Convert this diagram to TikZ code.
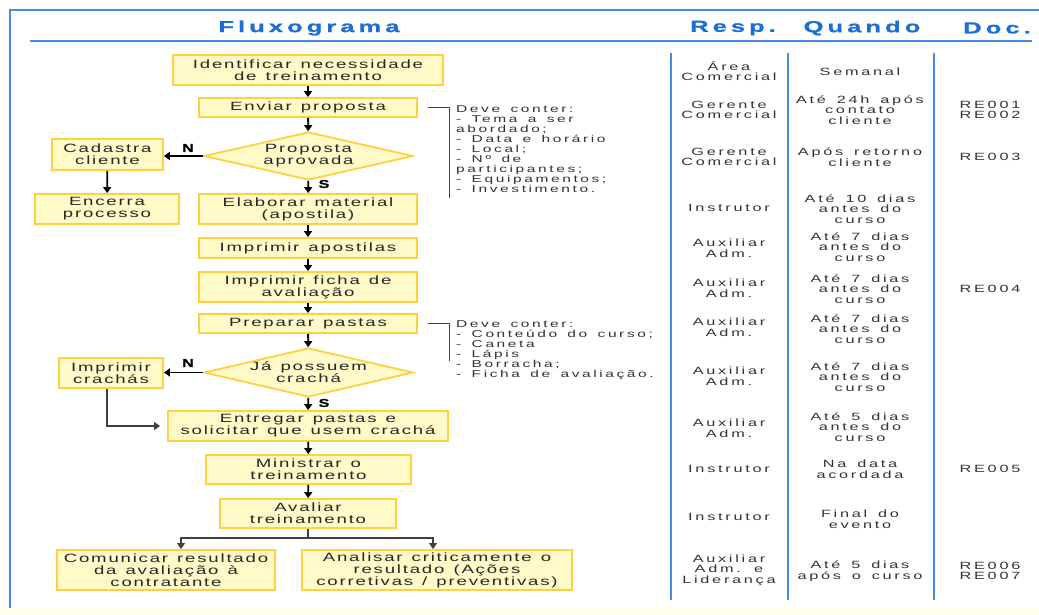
\documentclass[tikz,border=0pt]{standalone}
\usepackage{fontspec}
\setmainfont{Liberation Sans}
\newfontfamily\caixafont{Liberation Sans}[FakeStretch=1.55, LetterSpace=15, WordSpace=1.3]
\newfontfamily\colunafont{Liberation Sans}[FakeStretch=1.55, LetterSpace=26, WordSpace=1.5]
\newfontfamily\titulofont{Liberation Sans Bold}[FakeStretch=1.6, LetterSpace=25, FakeBold=1]
\newfontfamily\rotulofont{Liberation Sans Bold}[FakeStretch=1.4, FakeBold=1]
\usetikzlibrary{shapes.geometric, arrows.meta}
\definecolor{ouro}{RGB}{255,208,64}
\definecolor{creme}{RGB}{255,250,200}
\definecolor{azul}{RGB}{28,110,214}
\definecolor{linha}{RGB}{70,140,230}
\definecolor{fundo}{RGB}{255,255,236}

\begin{document}
\begin{tikzpicture}[x=1pt, y=-1pt,
  caixa/.style={draw=ouro, fill=creme, line width=1.8pt, inner sep=0pt, align=center,
    font=\fontsize{12}{12}\selectfont\caixafont, text=black!85},
  decisao/.style={draw=ouro, fill=creme, line width=1.8pt, inner sep=0pt, diamond},
  texto/.style={inner sep=0pt, align=center, font=\fontsize{12}{12}\selectfont\caixafont, text=black!85},
  seta/.style={-{Triangle[width=8pt,length=6pt]}, line width=1.8pt},
  liga/.style={draw=black!75, line width=1.1pt},
  coluna/.style={inner sep=0pt, align=center, text=black!80,
    font=\fontsize{10.5}{10.5}\selectfont\colunafont},
  nota/.style={inner sep=0pt, align=left, anchor=north west, text=black!80,
    font=\fontsize{10}{10}\selectfont\colunafont},
  cabec/.style={inner sep=0pt, text=azul, font=\fontsize{16}{16}\selectfont\titulofont},
  rotulo/.style={inner sep=0pt, font=\fontsize{11.5}{11.5}\selectfont\rotulofont}]
\useasboundingbox (0,0) rectangle (1039,615);
\fill[fundo] (0,608) rectangle (1039,615);
\draw[linha, line width=1.5pt] (10,608) -- (10,10) -- (1039,10);

% cabecalho
\node[cabec] (titulo) at (309,28) {Fluxograma};
\node[cabec] (hresp) at (733,28) {Resp.};
\node[cabec] (hquando) at (862,28) {Quando};
\node[cabec] (hdoc) at (997,28) {Doc.};
\draw[linha, line width=1.3pt] (30,41) -- (1032,41);
\draw[linha, line width=1.8pt] (671,53) -- (671,600);
\draw[linha, line width=1.8pt] (788,53) -- (788,600);
\draw[linha, line width=1.8pt] (934,53) -- (934,600);

% fluxo
\node[caixa, minimum width=270pt, minimum height=30pt] (ident) at (308,70) {Identificar necessidade\\de treinamento};
\node[caixa, minimum width=218pt, minimum height=19pt] (envia) at (308,107.5) {Enviar proposta};
\node[decisao, minimum width=209pt, minimum height=48pt] (aprov) at (308.5,156) {};
\node[texto] (aprovtxt) at (aprov) {Proposta\\aprovada};
\node[caixa, minimum width=111pt, minimum height=31pt] (cadastra) at (107.5,154.5) {Cadastra\\cliente};
\node[caixa, minimum width=144pt, minimum height=30pt] (encerra) at (107,209) {Encerra\\processo};
\node[caixa, minimum width=218pt, minimum height=30pt] (elabora) at (308,209) {Elaborar material\\(apostila)};
\node[caixa, minimum width=218pt, minimum height=20pt] (impapost) at (308,248) {Imprimir apostilas};
\node[caixa, minimum width=218pt, minimum height=30pt] (impficha) at (308,287) {Imprimir ficha de\\avaliação};
\node[caixa, minimum width=218pt, minimum height=19pt] (prepara) at (308,323.5) {Preparar pastas};
\node[decisao, minimum width=209pt, minimum height=49pt] (possuem) at (308.5,372.5) {};
\node[texto] (possuemtxt) at (possuem) {Já possuem\\crachá};
\node[caixa, minimum width=104pt, minimum height=30pt] (impcracha) at (111,373) {Imprimir\\crachás};
\node[caixa, minimum width=280pt, minimum height=30pt] (entrega) at (308,426) {Entregar pastas e\\solicitar que usem crachá};
\node[caixa, minimum width=205pt, minimum height=29pt] (ministra) at (308.5,469.5) {Ministrar o\\treinamento};
\node[caixa, minimum width=176pt, minimum height=29pt] (avalia) at (308,513.5) {Avaliar\\treinamento};
\node[caixa, minimum width=218pt, minimum height=40pt] (comunica) at (166,570) {Comunicar resultado\\da avaliação à\\contratante};
\node[caixa, minimum width=270pt, minimum height=40pt] (analisa) at (437,570) {Analisar criticamente o\\resultado (Ações\\corretivas / preventivas)};

\draw[seta] (ident) -- (envia);
\draw[seta] (envia) -- (aprov);
\draw[seta] (aprov.west) -- (aprov.west -| cadastra.east);
\draw[seta] (aprov) -- (elabora);
\draw[seta] (cadastra) -- (encerra);
\draw[seta] (elabora) -- (impapost);
\draw[seta] (impapost) -- (impficha);
\draw[seta] (impficha) -- (prepara);
\draw[seta] (prepara) -- (possuem);
\draw[seta] (possuem.west) -- (possuem.west -| impcracha.east);
\draw[seta] (possuem) -- (entrega);
\draw[seta] (entrega) -- (ministra);
\draw[seta] (ministra) -- (avalia);
\node[rotulo] (n1) at (188,148) {N};
\node[rotulo] (s1) at (324,184) {S};
\node[rotulo] (n2) at (188,363) {N};
\node[rotulo] (s2) at (324,403) {S};

\draw[liga, -{Triangle[width=8pt,length=6pt]}, shorten >=7pt] ([xshift=-4pt]impcracha.south) |- (entrega.west);
\coordinate (ramo) at (308,538);
\draw[liga] (avalia.south) -- (ramo);
\draw[liga, -{Triangle[width=8pt,length=6pt]}] (ramo) -| ([xshift=15pt]comunica.north);
\draw[liga, -{Triangle[width=8pt,length=6pt]}] (ramo) -| ([xshift=-4pt]analisa.north);

% observacoes
\node[nota] (nota1) at (456,105) {Deve conter:\\- Tema a ser\\abordado;\\- Data e horário\\- Local;\\- Nº de\\participantes;\\- Equipamentos;\\- Investimento.};
\draw[liga] ([xshift=10pt]envia.east) -- ++(22,0) -- ++(0,90);
\node[nota] (nota2) at (456,320) {Deve conter:\\- Conteúdo do curso;\\- Caneta\\- Lápis\\- Borracha;\\- Ficha de avaliação.};
\draw[liga] ([xshift=10pt]prepara.east) -- ++(22,0) -- ++(0,37);

% responsaveis
\node[coluna] (r1) at (729,71) {Área\\Comercial};
\node[coluna] (r2) at (729,110) {Gerente\\Comercial};
\node[coluna] (r3) at (729,157) {Gerente\\Comercial};
\node[coluna] (r4) at (729,208) {Instrutor};
\node[coluna] (r5) at (729,248) {Auxiliar\\Adm.};
\node[coluna] (r6) at (729,288) {Auxiliar\\Adm.};
\node[coluna] (r7) at (729,327) {Auxiliar\\Adm.};
\node[coluna] (r8) at (729,376) {Auxiliar\\Adm.};
\node[coluna] (r9) at (729,428) {Auxiliar\\Adm.};
\node[coluna] (r10) at (729,469) {Instrutor};
\node[coluna] (r11) at (729,517) {Instrutor};
\node[coluna] (r12) at (729,570) {Auxiliar\\Adm. e\\Liderança};

% quando
\node[coluna] (q1) at (860,72) {Semanal};
\node[coluna] (q2) at (860,110) {Até 24h após\\contato\\cliente};
\node[coluna] (q3) at (860,157) {Após retorno\\cliente};
\node[coluna] (q4) at (860,209) {Até 10 dias\\antes do\\curso};
\node[coluna] (q5) at (860,247) {Até 7 dias\\antes do\\curso};
\node[coluna] (q6) at (860,289) {Até 7 dias\\antes do\\curso};
\node[coluna] (q7) at (860,329) {Até 7 dias\\antes do\\curso};
\node[coluna] (q8) at (860,377) {Até 7 dias\\antes do\\curso};
\node[coluna] (q9) at (860,427) {Até 5 dias\\antes do\\curso};
\node[coluna] (q10) at (860,469) {Na data\\acordada};
\node[coluna] (q11) at (860,519) {Final do\\evento};
\node[coluna] (q12) at (860,571) {Até 5 dias\\após o curso};

% documentos
\node[coluna] (d1) at (990,110) {RE001\\RE002};
\node[coluna] (d2) at (990,157) {RE003};
\node[coluna] (d3) at (990,289) {RE004};
\node[coluna] (d4) at (990,469) {RE005};
\node[coluna] (d5) at (990,571) {RE006\\RE007};

\end{tikzpicture}
\end{document}
